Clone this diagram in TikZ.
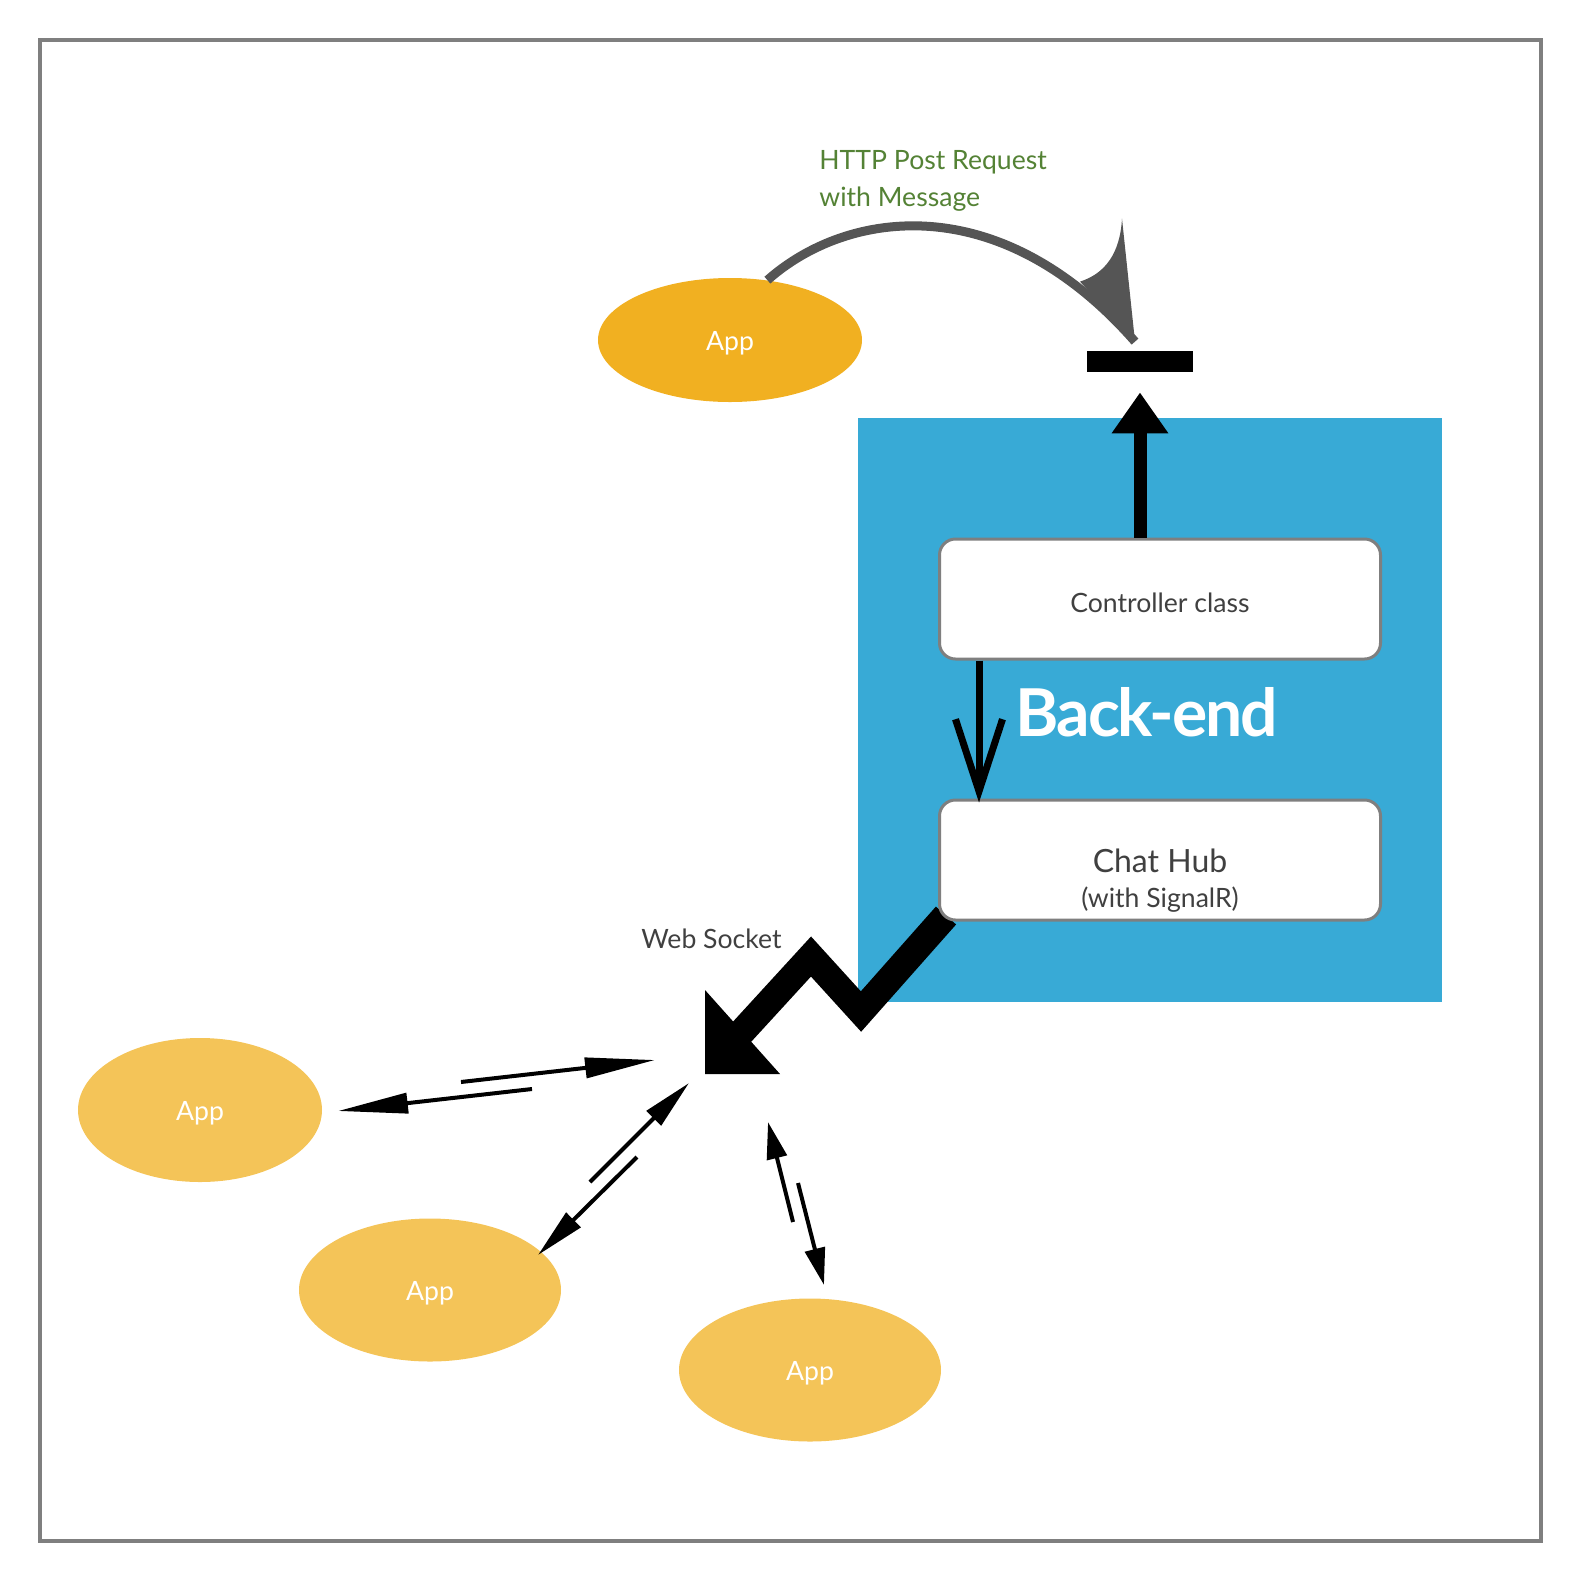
\documentclass[tikz,border=0pt]{standalone}
\usepackage{fontspec}
\setmainfont{Lato}
\usepackage{tikz}
\usetikzlibrary{arrows.meta,backgrounds,calc,positioning,shapes.geometric}
\definecolor{appgold}{HTML}{F1B021}
\definecolor{applight}{HTML}{F4C458}
\definecolor{backblue}{HTML}{38AAD6}
\definecolor{postgreen}{HTML}{548235}
\definecolor{framegray}{HTML}{7F7F7F}
\definecolor{textgray}{HTML}{404040}
\definecolor{curvegray}{HTML}{555555}
\tikzset{%
	frameline/.style = {draw=framegray, line width=2pt}, % Outer border
	app/.style       = {ellipse, fill=applight, text=white, inner sep=0pt, minimum width=131pt, minimum height=71.5pt, text height=10.3pt, text depth=0pt, font=\fontsize{13.3}{16}\selectfont}, % Client
	backend/.style   = {fill=backblue, minimum width=292pt, minimum height=292pt, inner sep=0pt}, % Server area
	box/.style       = {draw=framegray, line width=1.5pt, fill=white, rounded corners=8pt, minimum width=220.5pt, minimum height=60pt, text=textgray, font=\fontsize{13.3}{16}\selectfont}, % Class
	bar/.style       = {fill=black, minimum width=53pt, minimum height=10.5pt, inner sep=0pt}, % Endpoint
	note/.style      = {text=textgray, inner sep=0pt, font=\fontsize{13.3}{16}\selectfont}, % Text
	post/.style      = {draw=curvegray, line width=4.5pt}, % Request
	socket/.style    = {line width=13.5pt}, % Web socket
	uparrow/.style   = {line width=6.5pt, -{Triangle[length=20.5pt, width=27pt]}, shorten >=10pt},
	downarrow/.style = {line width=3.5pt, -{Straight Barb[length=36pt, width=23.5pt, line width=3.5pt]}},
	pair/.style      = {line width=2pt},
}
\begin{document}
\begin{tikzpicture}[x=0.5pt, y=-0.5pt]
	\useasboundingbox (0,0) rectangle (1581,1581);
	\draw[frameline] (40,40) rectangle (1541,1541);
	% back-end
	\node[box, text height=13.8pt, text depth=0pt] (ctrl) at (1160,599) {Controller class};
	\node[box, below=69pt of ctrl] (hub) {};
	\node[note, align=center, anchor=north, font=\fontsize{13.3}{17.5}\selectfont] (hubname) at ($(hub.north)+(0,50)$) {{\fontsize{16}{17.5}\selectfont Chat Hub}\\(with SignalR)};
	\node[note, text=white, font=\fontsize{33}{40}\selectfont\bfseries\addfontfeature{LetterSpace=-3}, anchor=base west] (betext) at (1015,736) {Back-end};
	\node[bar] (bar) at (1140,361.5) {};
	\coordinate (ws) at (705,1074);
	\begin{scope}[on background layer]
		\node[backend] (be) at (1150,710) {};
		\draw[socket] ([shift={(8,-6)}]hub.south west) -- ++(-85,96) -- ++(-50,-55) -- ([shift={(35,-40)}]ws);
		\fill ([shift={(0,-84)}]ws) -- (ws) -- ([shift={(75,0)}]ws) -- cycle;
	\end{scope}
	\draw[downarrow] ([xshift=20.5pt]ctrl.south west) -- ([xshift=20.5pt, yshift=-2pt]hub.north west);
	\draw[uparrow] (ctrl.north -| bar) -- (bar.south);
	\node[note, anchor=base west] (wstext) at (641,948) {Web Socket};
	% apps
	\node[app, fill=appgold, minimum width=132pt, minimum height=62pt] (topapp) at (730,340) {App};
	\node[app, minimum width=122pt, minimum height=72pt] (appl) at (200,1110) {App};
	\node[app] (appm) at (430,1290) {App};
	\node[app] (appr) at (810,1370) {App};
	% http post
	\node[note, text=postgreen, align=left, anchor=north west, font=\fontsize{13.3}{18.5}\selectfont] (http) at (819,150) {HTTP Post Request\\with Message};
	\draw[post] (topapp.58) .. controls +(80,-71) and +(-135,-154) .. ($(bar.north)+(-5,-9)$) coordinate (posttip);
	\fill[curvegray] (posttip) -- ++(-13,-123) .. controls +(-2,35) and +(25,-8) .. ++(-42,63) -- cycle;
	% socket pairs
	\coordinate (a1) at (461,1082); \coordinate (a2) at (655,1060);
	\coordinate (a3) at (532,1089); \coordinate (a4) at (338,1111);
	\coordinate (b1) at (590,1182); \coordinate (b2) at (689,1083);
	\coordinate (b3) at (637,1157); \coordinate (b4) at (538,1255);
	\coordinate (c1) at (793,1222); \coordinate (c2) at (768,1122);
	\coordinate (c3) at (798,1183); \coordinate (c4) at (824,1285);
	\draw[pair, -{Triangle[length=35pt, width=10pt]}] (a1) -- (a2);
	\draw[pair, -{Triangle[length=35pt, width=10pt]}] (a3) -- (a4);
	\draw[pair, -{Triangle[length=25pt, width=10pt]}] (b1) -- (b2);
	\draw[pair, -{Triangle[length=25pt, width=10pt]}] (b3) -- (b4);
	\draw[pair, -{Triangle[length=18.5pt, width=10pt]}] (c1) -- (c2);
	\draw[pair, -{Triangle[length=18.5pt, width=10pt]}] (c3) -- (c4);
\end{tikzpicture}
\end{document}
